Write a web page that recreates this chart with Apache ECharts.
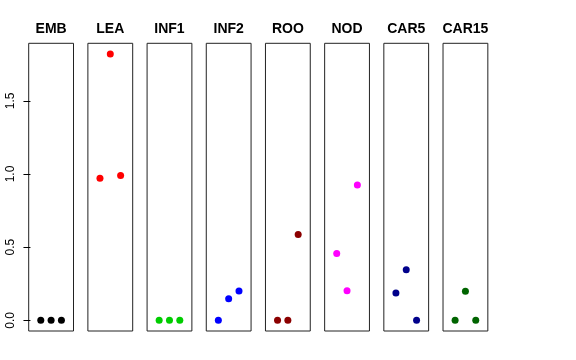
<!DOCTYPE html>
<html>
<head>
<meta charset="utf-8">
<script src="https://cdn.jsdelivr.net/npm/echarts@6/dist/echarts.min.js"></script>
<style>html,body{margin:0;padding:0;background:#fff;}#c{width:576px;height:360px;}</style>
</head>
<body>
<div id="c"></div>
<script>
// Data
var panels = ["EMB", "LEA", "INF1", "INF2", "ROO", "NOD", "CAR5", "CAR15"];
var colors = ["#000000", "#FF0000", "#00CD00", "#0000FF", "#8B0000", "#FF00FF", "#00008B", "#006400"];
var positions = [1, 2, 3];
var EMB = [0, 0, 0];
var LEA = [0.97, 1.82, 0.99];
var INF1 = [0, 0, 0];
var INF2 = [0, 0.148, 0.200];
var ROO = [0, 0, 0.587];
var NOD = [0.457, 0.202, 0.924];
var CAR5 = [0.187, 0.346, 0];
var CAR15 = [0, 0.198, 0];
var yTicks = [0, 0.5, 1.0, 1.5];
var values = [EMB, LEA, INF1, INF2, ROO, NOD, CAR5, CAR15];

(function () {
var chart = echarts.init(document.getElementById('c'), null, {renderer: 'canvas'});
var grids = [], xAxes = [], yAxes = [], series = [], titles = [];
var left0 = 28.7, step = 59.19, w = 44.8, gTop = 43.3, gH = 287.7;
var yMin = -0.0728, yMax = 1.8928;
for (var i = 0; i < panels.length; i++) {
  var L = left0 + i * step;
  grids.push({left: L, top: gTop, width: w, height: gH, show: true, borderColor: '#222', borderWidth: 1});
  xAxes.push({type: 'value', gridIndex: i, min: -0.17, max: 4.17, show: false});
  var ya = {type: 'value', gridIndex: i, min: yMin, max: yMax, splitLine: {show: false}};
  if (i === 0) {
    ya.axisLine = {show: false};
    ya.axisTick = {show: true, length: 7, lineStyle: {color: '#000'}, customValues: yTicks};
    ya.axisLabel = {show: true, rotate: 90, margin: 12, fontSize: 12, color: '#000',
      fontFamily: 'Liberation Sans, Arial, sans-serif', customValues: yTicks,
      formatter: function (v) { return Number(v).toFixed(1); }};
  } else {
    ya.show = false;
  }
  yAxes.push(ya);
  series.push({
    type: 'scatter', xAxisIndex: i, yAxisIndex: i,
    symbol: 'circle', symbolSize: 7,
    itemStyle: {color: colors[i], opacity: 1},
    data: positions.map(function (p, j) { return [p, values[i][j]]; }),
    silent: true
  });
  titles.push({
    text: panels[i], left: L + w / 2, top: 22, textAlign: 'center', padding: 0,
    textStyle: {fontSize: 14, fontWeight: 'bold', color: '#000', fontFamily: 'Liberation Sans, Arial, sans-serif'}
  });
}
chart.setOption({
  animation: false,
  backgroundColor: '#fff',
  title: titles,
  grid: grids,
  xAxis: xAxes,
  yAxis: yAxes,
  series: series
});
})();
</script>
</body>
</html>
